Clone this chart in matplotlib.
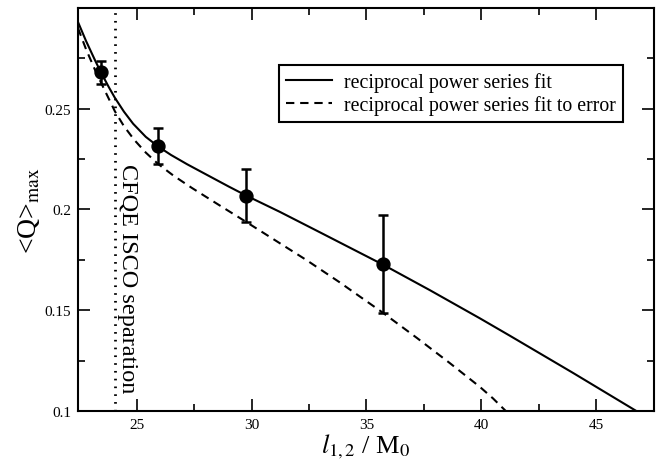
import matplotlib
matplotlib.use('Agg')
import matplotlib.pyplot as plt

plt.rcParams['font.family'] = ['Liberation Serif', 'DejaVu Serif']
plt.rcParams['mathtext.fontset'] = 'stix'

# measured points with error bars
sep = [23.44, 25.94, 29.78, 35.72]
q_max = [0.268, 0.2313, 0.2068, 0.1728]
q_err = [0.0058, 0.0090, 0.0132, 0.0243]

# reciprocal power series fit
fit_x = [22.45, 22.8, 23.2, 23.44, 23.8, 24.06, 24.45, 24.85, 25.4, 25.94,
         26.5, 27.2, 28.05, 29.0, 29.78, 31.23, 33.0, 34.71, 35.72, 37.75,
         39.93, 41.23, 44.0, 46.74]
fit_y = [0.2930, 0.2836, 0.2738, 0.2682, 0.2605, 0.2553, 0.2485, 0.2425, 0.2360, 0.2312,
         0.2270, 0.2224, 0.2172, 0.2114, 0.2068, 0.1988, 0.1885, 0.1785, 0.1726, 0.1600,
         0.1460, 0.1374, 0.1188, 0.1000]

# fit to error
err_x = [22.45, 22.8, 23.2, 23.6, 24.06, 24.45, 24.9, 25.4, 25.93, 26.6,
         27.4, 28.5, 29.78, 31.0, 32.4, 33.8, 35.72, 37.2, 38.6, 39.93,
         40.5, 41.06]
err_y = [0.2900, 0.2795, 0.2690, 0.2594, 0.2486, 0.2413, 0.2345, 0.2282, 0.2226, 0.2168,
         0.2107, 0.2028, 0.1937, 0.1849, 0.1748, 0.1641, 0.1487, 0.1362, 0.1240, 0.1120,
         0.1063, 0.1000]

isco_sep = 24.06

fig = plt.figure(figsize=(6.72, 4.64), dpi=100)
ax = fig.add_axes([0.116, 0.112, 0.857, 0.869])

ax.plot(fit_x, fit_y, color='black', lw=1.5, label='reciprocal power series fit')
ax.plot(err_x, err_y, color='black', lw=1.5, ls=(0, (4, 2.8)),
        label='reciprocal power series fit to error')
ax.errorbar(sep, q_max, yerr=q_err, fmt='o', color='black', ms=9.3,
            elinewidth=1.8, capsize=3.8, capthick=1.8)
ax.axvline(isco_sep, color='black', lw=2, ls=(0, (0.6, 2.2)))
ax.text(24.62, 0.2228, 'CFQE ISCO separation', rotation=-90, ha='center', va='top',
        fontsize=17.5)

ax.set_xlim(22.45, 47.5)
ax.set_ylim(0.1, 0.3)
ax.set_xticks([25, 30, 35, 40, 45])
ax.set_xticks([27.5, 32.5, 37.5, 42.5, 47.5], minor=True)
ax.set_yticks([0.1, 0.15, 0.2, 0.25])
ax.set_yticklabels(['0.1', '0.15', '0.2', '0.25'])
ax.set_yticks([0.125, 0.175, 0.225, 0.275], minor=True)
ax.tick_params(which='both', direction='in', top=True, right=True, labelsize=11, width=1.2)
ax.tick_params(which='major', length=8.5, pad=5)
ax.tick_params(which='minor', length=5)
for s in ax.spines.values():
    s.set_linewidth(1.5)

ax.set_xlabel(r'$l_{1,2}$ / M$_0$', fontsize=19, labelpad=0)
ax.set_ylabel(r'<Q>$_{\rm max}$', fontsize=20, labelpad=2)

leg = ax.legend(loc='upper right', bbox_to_anchor=(0.946, 0.857), fontsize=14.3,
                frameon=True, fancybox=False, edgecolor='black', framealpha=1,
                handlelength=2.3, handletextpad=0.6, borderpad=0.35, labelspacing=0.12,
                borderaxespad=0)
leg.get_frame().set_linewidth(1.5)

fig.savefig('out.png', dpi=100)
